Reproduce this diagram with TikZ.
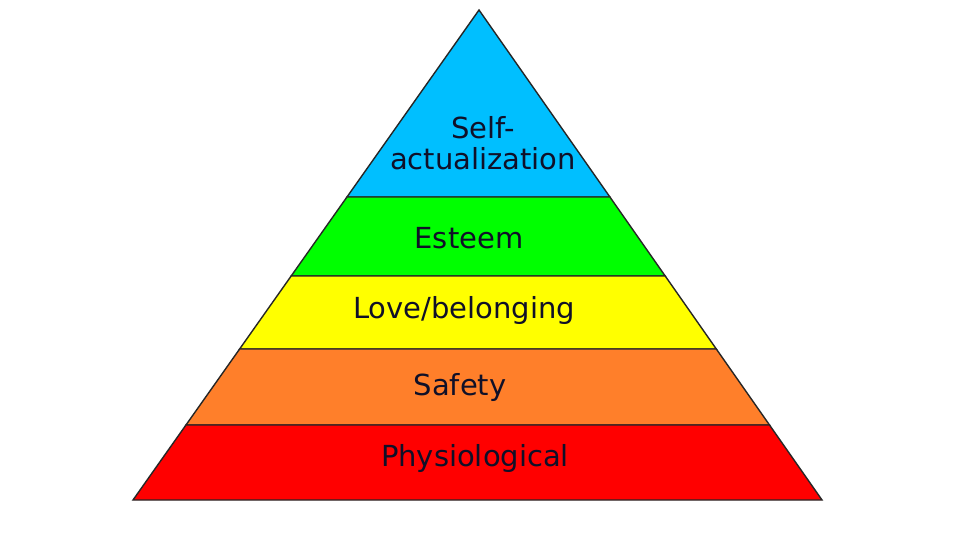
\documentclass[tikz,border=0pt]{standalone}
\usepackage{fontspec}
\setmainfont{DejaVu Sans}
\usetikzlibrary{calc}
\definecolor{capaAzul}{RGB}{0,191,255}
\definecolor{capaVerde}{RGB}{0,255,0}
\definecolor{capaAmarilla}{RGB}{255,255,0}
\definecolor{capaNaranja}{RGB}{255,127,42}
\definecolor{capaRoja}{RGB}{255,0,0}
\definecolor{textoCapa}{RGB}{16,16,40}
\begin{document}
\begin{tikzpicture}[
        x=1pt, y=-1pt,
        capa/.style={draw=black!85, line width=1.4pt, line join=miter},
        etiqueta/.style={text=textoCapa, font=\fontsize{29}{31}\selectfont, align=center, inner sep=0pt}
    ]
        % Marco de la imagen
        \useasboundingbox[fill=white] (0,0) rectangle (960,540);

        % Vertices de la piramide
        \coordinate (apex) at (479,10);
        \coordinate (bl) at (133,500);
        \coordinate (br) at (822,500);

        % Limites entre capas
        \coordinate (l1) at ($(apex)!0.3816!(bl)$);
        \coordinate (r1) at ($(apex)!0.3816!(br)$);
        \coordinate (l2) at ($(apex)!0.5429!(bl)$);
        \coordinate (r2) at ($(apex)!0.5429!(br)$);
        \coordinate (l3) at ($(apex)!0.6918!(bl)$);
        \coordinate (r3) at ($(apex)!0.6918!(br)$);
        \coordinate (l4) at ($(apex)!0.8469!(bl)$);
        \coordinate (r4) at ($(apex)!0.8469!(br)$);

        % Capas (de arriba hacia abajo)
        \filldraw[capa, fill=capaAzul] (apex) -- (r1) -- (l1) -- cycle;
        \filldraw[capa, fill=capaVerde] (l1) -- (r1) -- (r2) -- (l2) -- cycle;
        \filldraw[capa, fill=capaAmarilla] (l2) -- (r2) -- (r3) -- (l3) -- cycle;
        \filldraw[capa, fill=capaNaranja] (l3) -- (r3) -- (r4) -- (l4) -- cycle;
        \filldraw[capa, fill=capaRoja] (l4) -- (r4) -- (br) -- (bl) -- cycle;

        % Etiquetas
        \node[etiqueta] (autorrealizacion) at (483,143) {Self-\\actualization};
        \node[etiqueta] (estima) at (469,238) {Esteem};
        \node[etiqueta] (afiliacion) at (464,310) {Love/belonging};
        \node[etiqueta] (seguridad) at (460,387) {Safety};
        \node[etiqueta] (fisiologia) at (475,458) {Physiological};
    \end{tikzpicture}
\end{document}
